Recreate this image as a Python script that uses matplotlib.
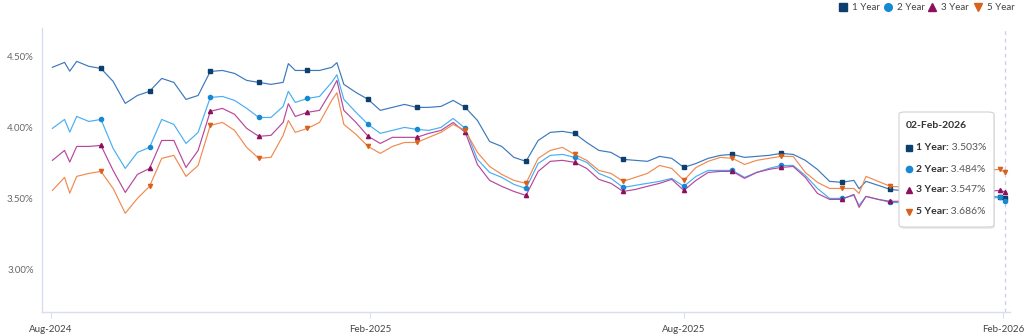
import numpy as np
import pandas as pd
import matplotlib.pyplot as plt
from matplotlib.patches import FancyBboxPatch

plt.rcParams["font.family"] = ["Lato", "DejaVu Sans"]

# weekly (Friday) yields Aug-2024 .. Jan-2026, plus the last day 02-Feb-2026
week_dates = list(pd.date_range("2024-08-02", "2026-01-30", freq="W-FRI")) + [pd.Timestamp("2026-02-02")]

yr1 = [4.423, 4.458, 4.465, 4.430, 4.415, 4.324, 4.169, 4.225, 4.254, 4.345,
       4.317, 4.197, 4.225, 4.394, 4.401, 4.380, 4.331, 4.317, 4.303, 4.317,
       4.401, 4.401, 4.401, 4.423, 4.303, 4.246, 4.197, 4.120, 4.141, 4.162,
       4.141, 4.141, 4.148, 4.190, 4.141, 4.049, 3.901, 3.866, 3.789, 3.761,
       3.908, 3.965, 3.972, 3.958, 3.894, 3.838, 3.824, 3.775, 3.768, 3.761,
       3.796, 3.782, 3.718, 3.746, 3.782, 3.803, 3.810, 3.789, 3.796, 3.803,
       3.817, 3.810, 3.768, 3.704, 3.620, 3.613, 3.627, 3.620, 3.592, 3.563,
       3.555, 3.545, 3.540, 3.530, 3.525, 3.520, 3.515, 3.520, 3.507, 3.503]

yr2 = [3.993, 4.056, 4.077, 4.042, 4.056, 3.852, 3.711, 3.824, 3.859, 4.056,
       4.021, 3.887, 3.965, 4.211, 4.218, 4.190, 4.134, 4.070, 4.070, 4.148,
       4.176, 4.204, 4.218, 4.317, 4.197, 4.106, 4.021, 3.958, 3.979, 4.000,
       3.986, 3.979, 4.000, 4.063, 3.993, 3.775, 3.683, 3.648, 3.599, 3.570,
       3.746, 3.803, 3.810, 3.789, 3.754, 3.676, 3.641, 3.577, 3.592, 3.606,
       3.620, 3.641, 3.585, 3.655, 3.697, 3.697, 3.697, 3.648, 3.683, 3.711,
       3.732, 3.732, 3.662, 3.570, 3.500, 3.500, 3.521, 3.514, 3.493, 3.472,
       3.470, 3.465, 3.460, 3.470, 3.475, 3.480, 3.485, 3.495, 3.509, 3.484]

yr3 = [3.768, 3.838, 3.866, 3.866, 3.873, 3.697, 3.542, 3.669, 3.711, 3.908,
       3.908, 3.718, 3.838, 4.113, 4.134, 4.092, 3.993, 3.937, 3.944, 4.035,
       4.077, 4.106, 4.120, 4.261, 4.120, 4.035, 3.937, 3.887, 3.930, 3.930,
       3.930, 3.958, 3.979, 4.035, 3.965, 3.739, 3.627, 3.585, 3.549, 3.521,
       3.690, 3.761, 3.768, 3.754, 3.711, 3.634, 3.606, 3.549, 3.563, 3.585,
       3.606, 3.634, 3.556, 3.627, 3.683, 3.690, 3.690, 3.641, 3.683, 3.704,
       3.718, 3.725, 3.648, 3.535, 3.493, 3.493, 3.528, 3.514, 3.493, 3.479,
       3.480, 3.490, 3.500, 3.510, 3.520, 3.530, 3.540, 3.550, 3.556, 3.547]

yr5 = [3.556, 3.648, 3.655, 3.676, 3.690, 3.570, 3.395, 3.500, 3.585, 3.782,
       3.803, 3.655, 3.732, 4.014, 4.035, 3.979, 3.859, 3.782, 3.789, 3.944,
       3.965, 3.993, 4.035, 4.190, 4.021, 3.951, 3.866, 3.817, 3.866, 3.894,
       3.894, 3.930, 3.965, 4.021, 3.979, 3.824, 3.725, 3.669, 3.627, 3.606,
       3.782, 3.838, 3.859, 3.810, 3.768, 3.697, 3.676, 3.620, 3.648, 3.676,
       3.732, 3.711, 3.627, 3.718, 3.761, 3.789, 3.782, 3.739, 3.768, 3.782,
       3.796, 3.796, 3.683, 3.613, 3.570, 3.570, 3.570, 3.655, 3.620, 3.585,
       3.580, 3.600, 3.620, 3.630, 3.650, 3.660, 3.680, 3.700, 3.704, 3.686]

# single-day spikes that the weekly samples miss
extra_dates = pd.to_datetime(["2024-08-12", "2024-12-16", "2025-01-13", "2025-11-10"])
extra_1 = [4.396, 4.449, 4.456, 3.568]
extra_2 = [3.967, 4.254, 4.371, 3.451]
extra_3 = [3.756, 4.167, 4.331, 3.437]
extra_5 = [3.537, 4.049, 4.244, 3.535]

labels = ["1 Year", "2 Year", "3 Year", "5 Year"]
last_values = [3.503, 3.484, 3.547, 3.686]
tooltip_date = "02-Feb-2026"

line_colors = ["#3a78be", "#47aef3", "#b6479c", "#f08a4e"]
mark_colors = ["#0d3f6e", "#1689d4", "#8c105e", "#d9611e"]
mark_styles = ["s", "o", "^", "v"]

weekly = pd.DataFrame(dict(zip(labels, [yr1, yr2, yr3, yr5])), index=week_dates)
extras = pd.DataFrame(dict(zip(labels, [extra_1, extra_2, extra_3, extra_5])), index=extra_dates)
full = pd.concat([weekly, extras]).sort_index()

# roughly monthly markers, as on the original chart
mark_idx = list(np.round(4 + 4.33 * np.arange(18)).astype(int)) + [len(weekly) - 1]
marked = weekly.iloc[mark_idx]

fig = plt.figure(figsize=(10.24, 3.35), dpi=100)
ax = fig.add_axes([42 / 1024, 23 / 335, 968 / 1024, 284 / 335])

for lab, lc, mc, ms in zip(labels, line_colors, mark_colors, mark_styles):
    ax.plot(full.index, full[lab], color=lc, lw=0.85, zorder=2)
    ax.plot(marked.index, marked[lab], ls="none", marker=ms, ms=3.0,
            color=mc, mec=mc, zorder=3)

ax.set_ylim(2.70, 4.70)
ax.set_xlim(pd.Timestamp("2024-07-27"), pd.Timestamp("2026-02-05"))
ax.set_yticks([3.0, 3.5, 4.0, 4.5])
ax.set_yticklabels([f"{v:.2f}%" for v in [3.0, 3.5, 4.0, 4.5]])
xt = pd.to_datetime(["2024-08-01", "2025-02-01", "2025-08-01", "2026-02-01"])
ax.set_xticks(xt)
ax.set_xticklabels([d.strftime("%b-%Y") for d in xt])

for s in ["top", "right"]:
    ax.spines[s].set_visible(False)
for s in ["left", "bottom"]:
    ax.spines[s].set_color("#d9dcf2")
    ax.spines[s].set_linewidth(1.0)
ax.tick_params(axis="y", length=0, labelsize=7, labelcolor="#666666", pad=6)
ax.tick_params(axis="x", length=4, color="#d9dcf2", labelsize=7, labelcolor="#444444", pad=5)

# hover crosshair
ax.axvline(pd.Timestamp("2026-02-02"), color="#c9cbef", lw=0.9, ls=(0, (3, 3)), zorder=1)

# legend across the top right
leg_x = [843, 888, 932, 978]
for lab, mc, ms, lx in zip(labels, mark_colors, mark_styles, leg_x):
    ax.plot([lx / 1024], [1 - 7 / 335], transform=fig.transFigure, marker=ms,
            ms=5.5, color=mc, clip_on=False)
    ax.text((lx + 9) / 1024, 1 - 7 / 335, lab, transform=fig.transFigure,
            fontsize=7, color="#444444", va="center", ha="left")

# tooltip box with a soft shadow
shadow = FancyBboxPatch((900 / 1024, (335 - 229) / 335), 95 / 1024, 115 / 335,
                        boxstyle="round,pad=0,rounding_size=0.006",
                        transform=fig.transFigure, facecolor="#000000", alpha=0.08,
                        edgecolor="none", zorder=9, clip_on=False)
ax.add_patch(shadow)
box = FancyBboxPatch((899 / 1024, (335 - 227) / 335), 95 / 1024, 115 / 335,
                     boxstyle="round,pad=0,rounding_size=0.006",
                     transform=fig.transFigure, facecolor="white",
                     edgecolor="#d2d2d2", lw=0.8, zorder=10, clip_on=False)
ax.add_patch(box)
ax.text(906 / 1024, 1 - 126 / 335, tooltip_date, transform=fig.transFigure,
        fontsize=7.5, fontweight="bold", color="#333333", va="center", zorder=11)
row_y = [148, 169, 190, 212]
for lab, val, mc, ms, ry in zip(labels, last_values, mark_colors, mark_styles, row_y):
    ax.plot([909 / 1024], [1 - ry / 335], transform=fig.transFigure, marker=ms,
            ms=4.5, color=mc, clip_on=False, zorder=11)
    t = ax.text(916 / 1024, 1 - ry / 335, lab + ":", transform=fig.transFigure,
                fontsize=7.5, fontweight="bold", color="#333333", va="center", zorder=11)
    ax.annotate(f" {val:.3f}%", xy=(1, 0.5), xycoords=t, va="center", ha="left",
                fontsize=7.5, color="#555555", zorder=11, annotation_clip=False)

fig.savefig("out.png", dpi=100)
